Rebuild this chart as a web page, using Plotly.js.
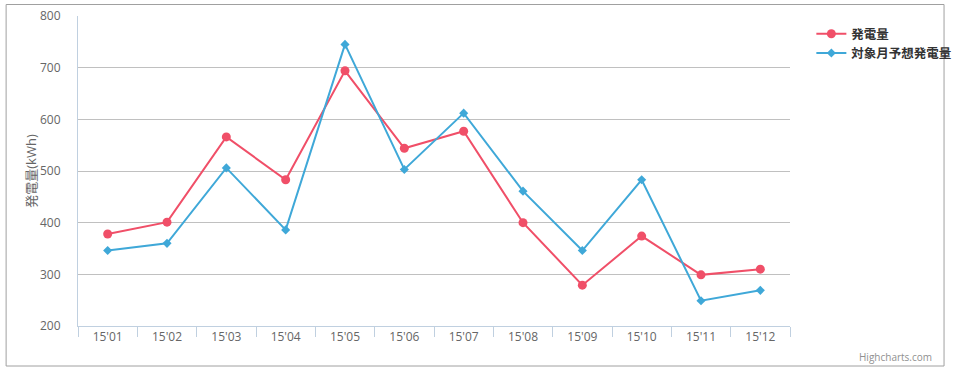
<!DOCTYPE html>
<html>
<head>
<meta charset="utf-8">
<script src="https://cdn.plot.ly/plotly-3.0.1.min.js"></script>
<style>
html,body{margin:0;padding:0;background:#fff;}
#chart{width:969px;height:372px;}
</style>
</head>
<body>
<div id="chart"></div>
<script>
const categories = ["15'01","15'02","15'03","15'04","15'05","15'06","15'07","15'08","15'09","15'10","15'11","15'12"];
const actual = [378, 401, 566, 483, 694, 544, 577, 400, 279, 374, 299, 310];
const forecast = [346, 360, 506, 386, 745, 503, 612, 461, 346, 483, 249, 269];
const seriesNames = ["発電量", "対象月予想発電量"];
const yTicks = [200, 300, 400, 500, 600, 700, 800];

const FONT = "'Open Sans', 'Noto Sans CJK JP', sans-serif";

const traces = [
  {
    x: categories, y: actual, name: seriesNames[0], type: 'scatter', mode: 'lines+markers',
    line: {color: '#f04f68', width: 2},
    marker: {symbol: 'circle', size: 9, color: '#f04f68'}
  },
  {
    x: categories, y: forecast, name: seriesNames[1], type: 'scatter', mode: 'lines+markers',
    line: {color: '#3fa8d8', width: 2},
    marker: {symbol: 'diamond', size: 7, color: '#3fa8d8'}
  }
];

const layout = {
  width: 969, height: 372,
  margin: {l: 78, r: 163, t: 16, b: 46},
  paper_bgcolor: '#ffffff', plot_bgcolor: '#ffffff',
  font: {family: FONT, color: '#666666', size: 12},
  showlegend: true,
  legend: {
    x: 1.03, y: 0.99, xanchor: 'left', yanchor: 'top',
    font: {family: FONT, size: 12.5, color: '#333333', weight: 'bold'},
    itemwidth: 30, tracegroupgap: 2, bgcolor: 'rgba(0,0,0,0)'
  },
  xaxis: {
    type: 'category', tickson: 'boundaries', range: [-0.5, 11.5],
    showgrid: false, zeroline: false,
    showline: true, linecolor: '#c0d0e0', linewidth: 1,
    ticks: 'outside', ticklen: 10, tickcolor: '#c0d0e0', tickwidth: 1,
    tickfont: {family: FONT, size: 12, color: '#666666'},
    fixedrange: true
  },
  yaxis: {
    range: [200, 800], tickvals: yTicks,
    showgrid: true, gridcolor: '#c0c0c0', gridwidth: 1,
    zeroline: false, showline: true, linecolor: '#c0d0e0', linewidth: 1,
    ticks: '', ticklabelstandoff: 14,
    tickfont: {family: FONT, size: 12, color: '#666666'},
    title: {text: '発電量(kWh)', font: {family: FONT, size: 13, color: '#666666'}, standoff: 0},
    fixedrange: true
  },
  shapes: [
    {type: 'rect', xref: 'paper', yref: 'paper',
     x0: (4.5 - 78) / 728, x1: (963.5 - 78) / 728,
     y0: (326 - 366) / 310, y1: (326 - 4.5) / 310,
     line: {color: '#a0a0a0', width: 1}, fillcolor: 'rgba(0,0,0,0)', layer: 'below'}
  ],
  annotations: [
    {text: 'Highcharts.com', xref: 'paper', yref: 'paper',
     x: (953 - 78) / 728, y: (326 - 357) / 310, xanchor: 'right', yanchor: 'middle',
     showarrow: false, font: {family: FONT, size: 10, color: '#909090'}}
  ]
};

Plotly.newPlot('chart', traces, layout, {displayModeBar: false, staticPlot: true});
</script>
</body>
</html>
